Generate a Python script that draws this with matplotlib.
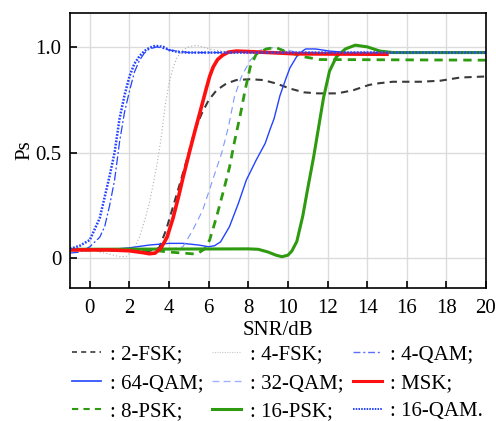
import matplotlib
matplotlib.use("Agg")
import matplotlib.pyplot as plt
from matplotlib.lines import Line2D

plt.rcParams['font.family'] = ['Liberation Serif', 'DejaVu Serif']
plt.rcParams['mathtext.fontset'] = 'stix'

# ---- data ----
x_16qam = [-1, -0.5, 0, 0.5, 1.0, 1.25, 1.5, 1.75, 2.0, 2.25, 2.5, 2.75, 3.0, 3.3, 3.7, 4.0, 4.5, 5.0, 6, 20]
y_16qam = [0.045, 0.06, 0.087, 0.19, 0.39, 0.50, 0.66, 0.77, 0.86, 0.92, 0.955, 0.98, 0.995, 1.005, 1.0, 0.985, 0.975, 0.973, 0.973, 0.973]

x_4qam = [-1, -0.5, 0, 0.5, 0.75, 1.0, 1.25, 1.5, 1.75, 2.0, 2.25, 2.5, 2.75, 3.0, 3.4, 4.0, 5.0, 20]
y_4qam = [0.025, 0.03, 0.055, 0.10, 0.15, 0.25, 0.37, 0.55, 0.69, 0.79, 0.88, 0.935, 0.97, 0.99, 1.0, 0.985, 0.973, 0.973]

x_4fsk = [-1, 0, 1, 1.5, 1.85, 2.2, 2.5, 2.8, 3.0, 3.2, 3.4, 3.6, 3.8, 4.0, 4.2, 4.4, 4.7, 5.0, 5.4, 6.0, 7.0, 20]
y_4fsk = [0.04, 0.04, 0.02, 0.008, 0.01, 0.04, 0.10, 0.19, 0.26, 0.35, 0.45, 0.57, 0.72, 0.83, 0.90, 0.95, 0.985, 1.0, 1.008, 0.99, 0.975, 0.973]

x_2fsk = [-1, 3.0, 3.5, 3.85, 4.15, 4.6, 5.0, 5.3, 5.65, 6.0, 6.4, 6.9, 7.4, 8.1, 8.75, 9.4, 10.1, 10.8, 11.5, 12.5, 13.3, 14.1, 14.6, 15.3, 16.7, 17.7, 18.7, 20]
y_2fsk = [0.04, 0.035, 0.05, 0.134, 0.228, 0.37, 0.50, 0.606, 0.685, 0.748, 0.795, 0.827, 0.843, 0.847, 0.843, 0.827, 0.803, 0.785, 0.78, 0.78, 0.795, 0.82, 0.828, 0.835, 0.835, 0.84, 0.855, 0.86]

x_msk = [-1, 1.0, 2.0, 2.7, 3.0, 3.3, 3.6, 3.9, 4.2, 4.5, 4.7, 5.05, 5.3, 5.56, 5.9, 6.05, 6.23, 6.45, 6.7, 7.0, 7.4, 8.4, 10.4, 15]
y_msk = [0.04, 0.04, 0.036, 0.027, 0.022, 0.025, 0.05, 0.10, 0.19, 0.30, 0.38, 0.51, 0.60, 0.69, 0.81, 0.86, 0.905, 0.94, 0.96, 0.975, 0.98, 0.976, 0.967, 0.965]

x_64qam = [-1, 1.0, 2.0, 3.0, 4.0, 4.7, 5.5, 6.0, 6.3, 6.6, 7.05, 7.5, 7.9, 8.4, 8.85, 9.1, 9.3, 9.6, 9.9, 10.1, 10.45, 10.7, 10.9, 11.4, 12.1, 13, 20]
y_64qam = [0.04, 0.042, 0.05, 0.063, 0.071, 0.071, 0.063, 0.055, 0.06, 0.078, 0.15, 0.26, 0.37, 0.465, 0.543, 0.61, 0.66, 0.77, 0.85, 0.9, 0.955, 0.978, 0.99, 0.99, 0.98, 0.973, 0.973]

x_32qam = [-1, 4.0, 4.7, 5.2, 5.7, 6.2, 6.65, 7.0, 7.3, 7.65, 8.1, 8.6, 9.1, 9.75, 10.45, 11.5, 20]
y_32qam = [0.04, 0.042, 0.055, 0.134, 0.228, 0.37, 0.496, 0.622, 0.764, 0.858, 0.937, 0.984, 0.997, 0.988, 0.975, 0.973, 0.973]

x_8psk = [-1, 3.0, 3.5, 4.0, 4.7, 5.4, 5.8, 6.05, 6.4, 6.75, 7.05, 7.3, 7.6, 7.85, 8.1, 8.4, 8.9, 9.4, 9.9, 10.4, 10.8, 11.6, 20]
y_8psk = [0.04, 0.04, 0.035, 0.03, 0.025, 0.02, 0.045, 0.087, 0.197, 0.32, 0.43, 0.55, 0.68, 0.80, 0.905, 0.965, 0.99, 0.997, 0.976, 0.965, 0.953, 0.94, 0.937]

x_16psk = [-1, 8.0, 8.5, 9.0, 9.4, 9.7, 10.0, 10.2, 10.45, 10.75, 11.0, 11.3, 11.55, 11.8, 12.1, 12.45, 12.9, 13.4, 14.0, 14.65, 15.3, 20]
y_16psk = [0.043, 0.045, 0.043, 0.03, 0.015, 0.008, 0.015, 0.035, 0.08, 0.2, 0.33, 0.48, 0.62, 0.76, 0.885, 0.953, 0.99, 1.008, 1.0, 0.98, 0.973, 0.973]

x_ticks = [0, 2, 4, 6, 8, 10, 12, 14, 16, 18, 20]
y_ticks = [0, 0.5, 1.0]
y_ticklabels = ["0", "0.5", "1.0"]

BLUE = "#2443ff"
GREEN = "#2e9a10"
FS = 15

fig = plt.figure(figsize=(4.96, 4.21), dpi=100)
ax = fig.add_axes([70/496, 1-288/421, 416/496, 275/421])

styles = {
    "2fsk": dict(color="#3a3a3a", lw=1.5, dashes=(3.5, 2.5)),
    "4fsk": dict(color="#b0b0b0", lw=0.8, dashes=(1, 2)),
    "4qam": dict(color=BLUE, lw=0.9, dashes=(7, 2, 1.5, 2)),
    "64qam": dict(color=BLUE, lw=1.0),
    "32qam": dict(color="#7f98ff", lw=0.8, dashes=(6, 4)),
    "8psk": dict(color=GREEN, lw=2.0, dashes=(3, 2.2)),
    "16psk": dict(color=GREEN, lw=2.2),
    "msk": dict(color="#ff1010", lw=2.6),
    "16qam": dict(color=BLUE, lw=1.8, dashes=(0.7, 0.6)),
}

ax.plot(x_2fsk, y_2fsk, **styles["2fsk"])
ax.plot(x_4fsk, y_4fsk, **styles["4fsk"])
ax.plot(x_4qam, y_4qam, **styles["4qam"])
ax.plot(x_64qam, y_64qam, **styles["64qam"])
ax.plot(x_32qam, y_32qam, **styles["32qam"])
ax.plot(x_8psk, y_8psk, **styles["8psk"])
ax.plot(x_16psk, y_16psk, **styles["16psk"])
ax.plot(x_msk, y_msk, **styles["msk"])
ax.plot(x_16qam, y_16qam, **styles["16qam"])

ax.set_xlim(-1, 20)
ax.set_ylim(-0.14, 1.16)
ax.set_xticks(x_ticks)
ax.set_yticks(y_ticks)
ax.set_yticklabels(y_ticklabels)
ax.grid(True, color="#dcdcdc", lw=1.0)
ax.set_axisbelow(True)
ax.tick_params(direction="in", length=5, width=1.2, labelsize=FS, top=False, right=False)
ax.tick_params(axis="x", pad=8)
ax.tick_params(axis="y", pad=6)
for s in ax.spines.values():
    s.set_linewidth(1.2)
ax.set_xlabel("SNR/dB", fontsize=FS, labelpad=2)
ax.set_ylabel("Ps", fontsize=FS, labelpad=1)

# legend proxies (legend handles are drawn thinner than the curves)
leg_styles = {
    "2fsk": dict(color="#3a3a3a", lw=1.2, dashes=(3, 2.5)),
    "4fsk": dict(color="#c8c8c8", lw=0.8, dashes=(1, 1.2)),
    "4qam": dict(color="#5a70ff", lw=1.0, dashes=(5, 2, 1.5, 2)),
    "64qam": dict(color="#3355ff", lw=1.3),
    "32qam": dict(color="#9fb2ff", lw=1.0, dashes=(5, 3)),
    "8psk": dict(color=GREEN, lw=1.5, dashes=(3, 2.5)),
    "16psk": dict(color=GREEN, lw=2.2),
    "msk": dict(color="#ff1010", lw=2.2),
    "16qam": dict(color=BLUE, lw=1.4, dashes=(0.8, 0.6)),
}
order = [("2fsk", ": 2-FSK;"), ("64qam", ": 64-QAM;"), ("8psk", ": 8-PSK;"),
         ("4fsk", ": 4-FSK;"), ("32qam", ": 32-QAM;"), ("16psk", ": 16-PSK;"),
         ("4qam", ": 4-QAM;"), ("msk", ": MSK;"), ("16qam", ": 16-QAM.")]
handles = [Line2D([], [], **leg_styles[k]) for k, _ in order]
labels = [lab for _, lab in order]
fig.legend(handles=handles, labels=labels, ncol=3,
           loc="upper left", bbox_to_anchor=(72/496, 1-345/421), frameon=False,
           fontsize=FS, handlelength=1.4, handletextpad=0.42, columnspacing=0.42,
           labelspacing=0.42, borderpad=0, borderaxespad=0)

fig.savefig("out.png", dpi=100)
